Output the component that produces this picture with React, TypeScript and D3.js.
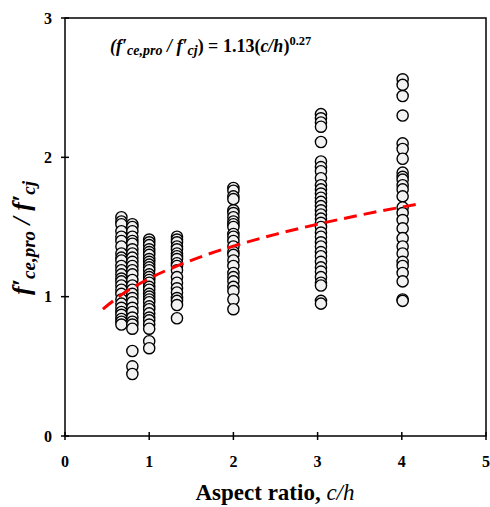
import React from "react";
import * as d3 from "d3";

const W = 490;
const H = 507;

const xTicks = [0, 1, 2, 3, 4, 5];
const yTicks = [0, 1, 2, 3];

// groups of c/h with measured ratio values
const col067 = [1.57, 1.54, 1.52, 1.47, 1.43, 1.40, 1.36, 1.31, 1.28, 1.26, 1.22, 1.19, 1.16, 1.13, 1.11, 1.08, 1.05, 1.02, 0.98, 0.95, 0.92, 0.89, 0.87, 0.84, 0.82, 0.80];
const col080 = [1.52, 1.50, 1.47, 1.43, 1.40, 1.38, 1.34, 1.31, 1.28, 1.25, 1.22, 1.19, 1.16, 1.12, 1.08, 1.05, 1.02, 0.99, 0.96, 0.92, 0.89, 0.85, 0.82, 0.80, 0.77, 0.61, 0.50, 0.445];
const col100 = [1.41, 1.39, 1.37, 1.34, 1.32, 1.30, 1.27, 1.25, 1.23, 1.21, 1.19, 1.16, 1.14, 1.12, 1.10, 1.07, 1.05, 1.02, 1.00, 0.98, 0.96, 0.93, 0.91, 0.88, 0.85, 0.83, 0.80, 0.77, 0.68, 0.63];
const col133 = [1.43, 1.41, 1.39, 1.36, 1.34, 1.31, 1.29, 1.27, 1.24, 1.22, 1.19, 1.14, 1.10, 1.06, 1.03, 0.99, 0.97, 0.94, 0.845];
const col200 = [1.78, 1.76, 1.72, 1.70, 1.62, 1.60, 1.57, 1.54, 1.52, 1.50, 1.45, 1.43, 1.40, 1.36, 1.32, 1.30, 1.26, 1.22, 1.17, 1.14, 1.11, 1.07, 1.04, 0.98, 0.91];
const col300 = [2.31, 2.28, 2.25, 2.22, 2.11, 1.97, 1.93, 1.90, 1.85, 1.80, 1.77, 1.74, 1.71, 1.68, 1.65, 1.62, 1.59, 1.56, 1.53, 1.50, 1.46, 1.43, 1.39, 1.36, 1.32, 1.29, 1.25, 1.21, 1.18, 1.14, 1.10, 1.08, 0.97, 0.95];
const col400 = [2.56, 2.52, 2.44, 2.30, 2.10, 2.06, 1.99, 1.89, 1.86, 1.84, 1.80, 1.77, 1.72, 1.64, 1.60, 1.55, 1.49, 1.42, 1.36, 1.31, 1.25, 1.22, 1.17, 1.11, 0.98, 0.97];

const groups: [number, number[]][] = [
  [0.67, col067],
  [0.8, col080],
  [1.0, col100],
  [1.33, col133],
  [2.0, col200],
  [3.04, col300],
  [4.01, col400],
];

// fitted trend line
const fitX = [0.45, 0.7, 1.0, 1.5, 2.0, 2.5, 3.0, 3.5, 4.2];
const fitY = [0.911, 1.026, 1.13, 1.261, 1.363, 1.447, 1.52, 1.585, 1.665];

export default function App() {
  const left = 65, right = 486, top = 18, bottom = 436;
  const x = d3.scaleLinear().domain([0, 5]).range([left, right]);
  const y = d3.scaleLinear().domain([0, 3]).range([bottom, top]);

  const line = d3
    .line<number>()
    .x((_, i) => x(fitX[i]))
    .y((d) => y(d))
    .curve(d3.curveMonotoneX);

  const serif = "'Liberation Serif', 'Times New Roman', serif";

  const pts: { cx: number; cy: number; key: string }[] = [];
  groups.forEach(([gx, vals], gi) => {
    vals.forEach((v, i) => pts.push({ cx: x(gx), cy: y(v), key: `${gi}-${i}` }));
  });

  return (
    <svg width={W} height={H} style={{ position: "absolute", left: 0, top: 0 }} fontFamily={serif}>
      <rect x={0} y={0} width={W} height={H} fill="#fff" />
      {/* frame */}
      <rect x={left} y={top} width={right - left} height={bottom - top} fill="none" stroke="#000" strokeWidth={1.5} />
      {/* ticks */}
      {xTicks.map((t) => (
        <g key={"xt" + t}>
          <line x1={x(t)} x2={x(t)} y1={bottom - 4} y2={bottom + 4} stroke="#000" strokeWidth={1.5} />
          <text x={x(t)} y={467} textAnchor="middle" fontSize={16} fontWeight="bold">
            {t}
          </text>
        </g>
      ))}
      {yTicks.map((t) => (
        <g key={"yt" + t}>
          <line x1={left - 4} x2={left + 4} y1={y(t)} y2={y(t)} stroke="#000" strokeWidth={1.5} />
          <text x={52} y={y(t) + 5.5} textAnchor="end" fontSize={16} fontWeight="bold">
            {t}
          </text>
        </g>
      ))}
      {/* points */}
      {pts.map((p) => (
        <circle key={p.key} cx={p.cx} cy={p.cy} r={5.6} fill="#f2f2f2" stroke="#000" strokeWidth={1.4} />
      ))}
      {/* fit */}
      <path d={line(fitY) || ""} fill="none" stroke="#ff0000" strokeWidth={3} strokeDasharray="13 7" />
      {/* equation */}
      <text x={110} y={52} fontSize={18} fontWeight="bold">
        <tspan fontStyle="italic">(f′</tspan>
        <tspan fontStyle="italic" fontSize={14} dy={3}>ce,pro</tspan>
        <tspan fontStyle="italic" dy={-3}> / f′</tspan>
        <tspan fontStyle="italic" fontSize={14} dy={3}>cj</tspan>
        <tspan dy={-3}>) = 1.13(</tspan>
        <tspan fontStyle="italic">c/h</tspan>
        <tspan>)</tspan>
        <tspan fontSize={12.5} dy={-7}>0.27</tspan>
      </text>
      {/* x title */}
      <text x={275} y={500} textAnchor="middle" fontSize={23} fontWeight="bold">
        Aspect ratio, <tspan fontStyle="italic" fontWeight="normal">c/h</tspan>
      </text>
      {/* y title */}
      <text transform={`translate(30, 238) rotate(-90)`} textAnchor="middle" fontSize={26} fontWeight="bold" fontStyle="italic">
        <tspan>f′</tspan>
        <tspan fontSize={19} dy={5}>ce,pro</tspan>
        <tspan dy={-5}> / f′</tspan>
        <tspan fontSize={19} dy={5}>cj</tspan>
      </text>
    </svg>
  );
}
